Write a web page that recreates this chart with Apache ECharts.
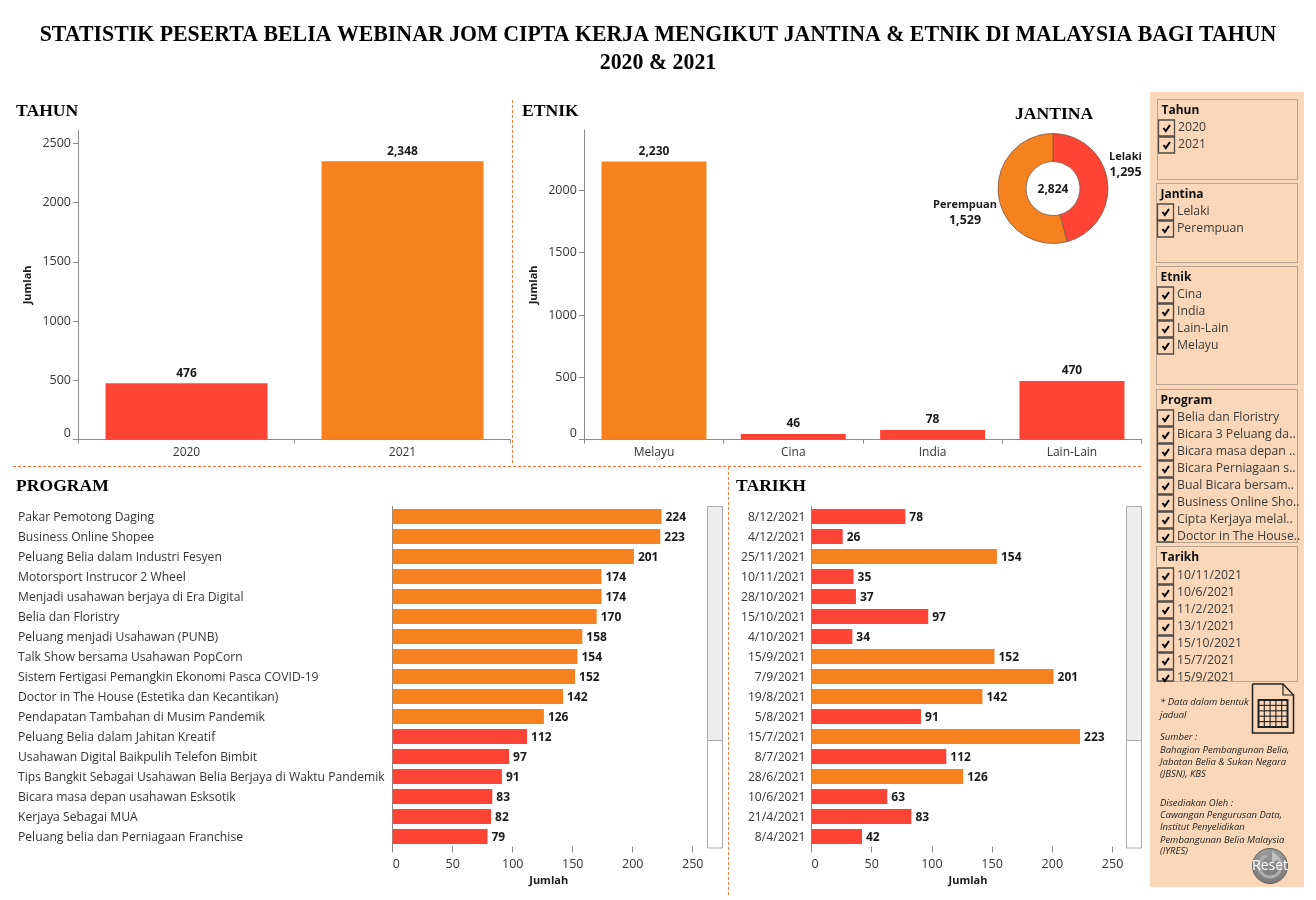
<!DOCTYPE html>
<html><head><meta charset="utf-8">
<script src="https://cdn.jsdelivr.net/npm/echarts@6/dist/echarts.min.js"></script>
<style>html,body{margin:0;padding:0;background:#fff}#c{width:1316px;height:900px}</style>
</head><body><div id="c"></div>
<script>
const titleText = 'STATISTIK PESERTA BELIA WEBINAR JOM CIPTA KERJA MENGIKUT JANTINA & ETNIK DI MALAYSIA BAGI TAHUN\n2020 & 2021';
const yearCats = ['2020','2021'];
const yearVals = [476,2348];
const etnikCats = ['Melayu','Cina','India','Lain-Lain'];
const etnikVals = [2230,46,78,470];
const genderCats = ['Lelaki','Perempuan'];
const genderVals = [1295,1529];
const programCats = ['Pakar Pemotong Daging','Business Online Shopee','Peluang Belia dalam Industri Fesyen','Motorsport Instrucor 2 Wheel','Menjadi usahawan berjaya di Era Digital','Belia dan Floristry','Peluang menjadi Usahawan (PUNB)','Talk Show bersama Usahawan PopCorn','Sistem Fertigasi Pemangkin Ekonomi Pasca COVID-19','Doctor in The House (Estetika dan Kecantikan)','Pendapatan Tambahan di Musim Pandemik','Peluang Belia dalam Jahitan Kreatif','Usahawan Digital Baikpulih Telefon Bimbit','Tips Bangkit Sebagai Usahawan Belia Berjaya di Waktu Pandemik','Bicara masa depan usahawan Esksotik','Kerjaya Sebagai MUA','Peluang belia dan Perniagaan Franchise'];
const programVals = [224,223,201,174,174,170,158,154,152,142,126,112,97,91,83,82,79];
const tarikhCats = ['8/12/2021','4/12/2021','25/11/2021','10/11/2021','28/10/2021','15/10/2021','4/10/2021','15/9/2021','7/9/2021','19/8/2021','5/8/2021','15/7/2021','8/7/2021','28/6/2021','10/6/2021','21/4/2021','8/4/2021'];
const tarikhVals = [78,26,154,35,37,97,34,152,201,142,91,223,112,126,63,83,42];
const filterTahun = ['2020','2021'];
const filterJantina = ['Lelaki','Perempuan'];
const filterEtnik = ['Cina','India','Lain-Lain','Melayu'];
const filterProgram = ['Belia dan Floristry','Bicara 3 Peluang da..','Bicara masa depan ..','Bicara Perniagaan s..','Bual Bicara bersam..','Business Online Sho..','Cipta Kerjaya melal..','Doctor in The House..'];
const filterTarikh = ['10/11/2021','10/6/2021','11/2/2021','13/1/2021','15/10/2021','15/7/2021','15/9/2021'];
const noteLines = [['* Data dalam bentuk',702],['jadual',715],['Sumber :',737],['Bahagian Pembangunan Belia,',750],['Jabatan Belia & Sukan Negara',762],['(JBSN), KBS',774],['Disediakan Oleh :',803],['Cawangan Pengurusan Data,',815],['Institut Penyelidikan',827],['Pembangunan Belia Malaysia',840],['(IYRES)',851]];

const ORANGE='#F5821F', RED='#FF4436', AXIS='#8c8c8c', TXT='#333333', DARK='#1a1a1a', PANEL='#FBD7B9', SEP='#F5823A';
const SANS='"Open Sans"', SERIF='"Liberation Serif"';
const fmt=v=>Number(v).toLocaleString('en-US');
const byLimit=limit=>p=>p.value>limit?ORANGE:RED;

const grid=[
 {left:78.5,width:432,top:130,height:309.7},
 {left:584.3,width:557.3,top:130,height:309.7},
 {left:392.7,width:312,top:506.5,height:340},
 {left:811.4,width:313.2,top:506.5,height:340}
];
const catTop=(i,data)=>({type:'category',gridIndex:i,data,
  axisLine:{lineStyle:{color:AXIS,width:1}},axisTick:{show:true,length:4,alignWithLabel:false,lineStyle:{color:AXIS}},
  axisLabel:{color:TXT,fontFamily:SANS,fontSize:12,margin:7},splitLine:{show:false}});
const valTop=(i,max,ticks)=>({type:'value',gridIndex:i,min:0,max,
  name:'Jumlah',nameLocation:'middle',nameGap:45,nameRotate:90,nameTextStyle:{fontFamily:SANS,fontSize:11,fontWeight:'bold',color:DARK},
  axisLine:{show:true,lineStyle:{color:AXIS}},axisTick:{show:true,length:5.5,customValues:ticks,lineStyle:{color:AXIS}},
  axisLabel:{customValues:ticks,formatter:v=>String(v),color:TXT,fontFamily:SANS,fontSize:12.5,margin:7.5,verticalAlignMinLabel:'bottom'},splitLine:{show:false}});
const hTicks=[0,50,100,150,200,250];
const valBot=i=>({type:'value',gridIndex:i,min:0,max:260,position:'bottom',
  name:'Jumlah',nameLocation:'middle',nameGap:29,nameTextStyle:{fontFamily:SANS,fontSize:11,fontWeight:'bold',color:DARK},
  axisLine:{show:false},axisTick:{show:true,length:6,customValues:hTicks,lineStyle:{color:AXIS}},
  axisLabel:{customValues:hTicks,color:TXT,fontFamily:SANS,fontSize:12.5,margin:11,alignMinLabel:'left'},splitLine:{show:false}});
const catBot=(i,data,margin,align)=>({type:'category',gridIndex:i,data,inverse:true,
  axisLine:{show:true,lineStyle:{color:AXIS}},axisTick:{show:false},
  axisLabel:{color:TXT,fontFamily:SANS,fontSize:12.15,margin,align,interval:0,formatter:v=>'{t|'+v+'}',rich:{t:{fontFamily:SANS,fontSize:12.15,color:TXT,padding:[3,0,0,0]}}},splitLine:{show:false}});

const topBar=(i,data,bw,limit)=>({type:'bar',xAxisIndex:i,yAxisIndex:i,data,barWidth:bw,
  itemStyle:{color:byLimit(limit)},
  label:{show:true,position:'top',distance:4,formatter:p=>fmt(p.value),fontFamily:SANS,fontSize:12,fontWeight:'bold',color:DARK}});
const botBar=(i,data,limit)=>({type:'bar',xAxisIndex:i,yAxisIndex:i,data,barWidth:15,
  itemStyle:{color:byLimit(limit)},
  label:{show:true,position:'right',distance:4,offset:[0,1],formatter:p=>fmt(p.value),fontFamily:SANS,fontSize:12,fontWeight:'bold',color:DARK}});

/* ---- decoration ---- */
const g=[];
const line=(x1,y1,x2,y2,stroke,w,dash)=>g.push({type:'line',shape:{x1,y1,x2,y2},style:{stroke,lineWidth:w||1,lineDash:dash||null},silent:true});
const rect=(x,y,w,h,fill,stroke,lw,dash)=>g.push({type:'rect',shape:{x,y,width:w,height:h},style:{fill:fill||null,stroke:stroke||null,lineWidth:lw||1,lineDash:dash||null},silent:true});
const text=(x,y,t,font,fill,align)=>g.push({type:'text',x,y,silent:true,style:{text:t,font,fill:fill||TXT,align:align||'left',verticalAlign:'middle'}});

// main title
g.push({type:'text',x:658,y:21,scaleX:0.91,silent:true,style:{text:titleText,font:'bold 24px '+SERIF,fill:'#000',align:'center',verticalAlign:'top',lineHeight:28}});

// separators
line(512.5,100,512.5,465,SEP,1,[3,2]);
line(13,466.5,1141,466.5,'#FF6A35',1,[3,2]);
line(728.5,467,728.5,897,SEP,1,[3,2]);
// scroll bars
[[707.5],[1126.5]].forEach(([x])=>{rect(x,506.5,15,341.5,'#ffffff','#ababab',1);rect(x,506.5,15,234,'#eeeeee','#ababab',1);});
// side panel
rect(1150,92,154,795,PANEL);
function box(x,y,w,h){rect(x,y,w,h,null,'#77706a',1,[1,1]);}
function filter(title,items,bx,by,bw,bh,cx,firstY,tx,clipY){
  box(bx,by,bw,bh);
  text(bx+4,by+11,title,'bold 12px '+SANS,'#111');
  items.forEach((t,i)=>{
    const y=firstY+i*17;
    const h=clipY&&y+16>clipY?clipY-y:16;
    rect(cx,y,16,h,null,'#4f4a46',1.3);
    g.push({type:'polyline',shape:{points:[[cx+5,y+8],[cx+7.3,y+11],[cx+11.5,y+5]]},style:{stroke:'#000',lineWidth:2,fill:null},silent:true});
    text(tx,y+7.5,t,'12.25px '+SANS,'#3a3a3a');
  });
}
filter('Tahun',filterTahun,1157.5,99.5,140,80,1158.5,120,1178);
filter('Jantina',filterJantina,1156.5,183.5,141,79,1157.5,204,1177);
filter('Etnik',filterEtnik,1156.5,266.5,141,118,1157.5,287,1177);
filter('Program',filterProgram,1156.5,389.5,141,153,1157.5,410,1177,542);
filter('Tarikh',filterTarikh,1156.5,546.5,141,135,1157.5,568,1177,681);
noteLines.forEach(([t,y])=>text(1160,y,t,'italic 9.5px '+SANS,'#222'));
// table icon
g.push({type:'polyline',shape:{points:[[1252.5,684],[1283,684],[1293.5,695],[1293.5,733],[1252.5,733],[1252.5,684]]},style:{stroke:'#222',lineWidth:1.5,fill:PANEL},silent:true});
g.push({type:'polyline',shape:{points:[[1283,684],[1283,695],[1293.5,695]]},style:{stroke:'#222',lineWidth:1.2,fill:null},silent:true});
rect(1258.5,700,29,27,null,'#222',2);
for(let i=1;i<5;i++){line(1258.5+i*5.8,700,1258.5+i*5.8,727,'#222',1.1);line(1258.5,700+i*5.4,1287.5,700+i*5.4,'#222',1.1);}
// reset
g.push({type:'circle',shape:{cx:1270,cy:866,r:17.5},silent:true,style:{stroke:'#5f5f5f',lineWidth:1,fill:new echarts.graphic.LinearGradient(0,0,0,1,[{offset:0,color:'#9b9b9b'},{offset:1,color:'#787878'}])}});
g.push({type:'arc',shape:{cx:1270,cy:866,r:11,startAngle:-1.0,endAngle:4.4,clockwise:true},style:{stroke:'#b0b0b0',lineWidth:3,fill:null},silent:true});
g.push({type:'polygon',shape:{points:[[1272,851],[1281,859],[1272,862]]},style:{fill:'#c0c0c0'},silent:true});
text(1270,866,'Reset','14px '+SANS,'#ffffff','center');
// pie total
text(1053,189.5,fmt(genderVals.reduce((a,b)=>a+b,0)),'bold 12px '+SANS,DARK,'center');

const headFont=(n,left,top)=>({text:n,left,top,padding:0,textStyle:{fontFamily:SERIF,fontSize:17.6,fontWeight:'bold',color:'#000',lineHeight:20}});
const pieLabelPos=[{x:1125.5,y:164.5,align:'center',verticalAlign:'middle'},{x:965,y:212.5,align:'center',verticalAlign:'middle'}];

const option={
  backgroundColor:'#ffffff',animation:false,
  title:[
    headFont('TAHUN',16,101),headFont('ETNIK',522,101),headFont('JANTINA',1015,104),headFont('PROGRAM',16,476),headFont('TARIKH',736,476)
  ],
  grid,
  xAxis:[catTop(0,yearCats),catTop(1,etnikCats),valBot(2),valBot(3)],
  yAxis:[valTop(0,2612,[0,500,1000,1500,2000,2500]),valTop(1,2483,[0,500,1000,1500,2000]),catBot(2,programCats,374.7,'left'),catBot(3,tarikhCats,6,'right')],
  series:[
    topBar(0,yearVals,162,1000),
    topBar(1,etnikVals,105,1000),
    botBar(2,programVals,120),
    botBar(3,tarikhVals,120),
    {type:'pie',center:[1053,188.5],radius:[27,55],startAngle:90,clockwise:true,silent:true,
     data:genderCats.map((name,i)=>({name,value:genderVals[i],itemStyle:{color:i?ORANGE:RED}})),
     itemStyle:{borderColor:'#7d5a48',borderWidth:0.8},
     label:{show:true,formatter:p=>'{n|'+p.name+'}\n{v|'+fmt(p.value)+'}',
       rich:{n:{fontFamily:SANS,fontSize:11,fontWeight:'bold',color:DARK,lineHeight:15.5,align:'center'},v:{fontFamily:SANS,fontSize:12.5,fontWeight:'bold',color:DARK,lineHeight:15.5,align:'center'}}},
     labelLine:{show:false},labelLayout:p=>pieLabelPos[p.dataIndex]}
  ],
  graphic:g
};
const chart=echarts.init(document.getElementById('c'),null,{renderer:'canvas'});
chart.setOption(option);
</script></body></html>
